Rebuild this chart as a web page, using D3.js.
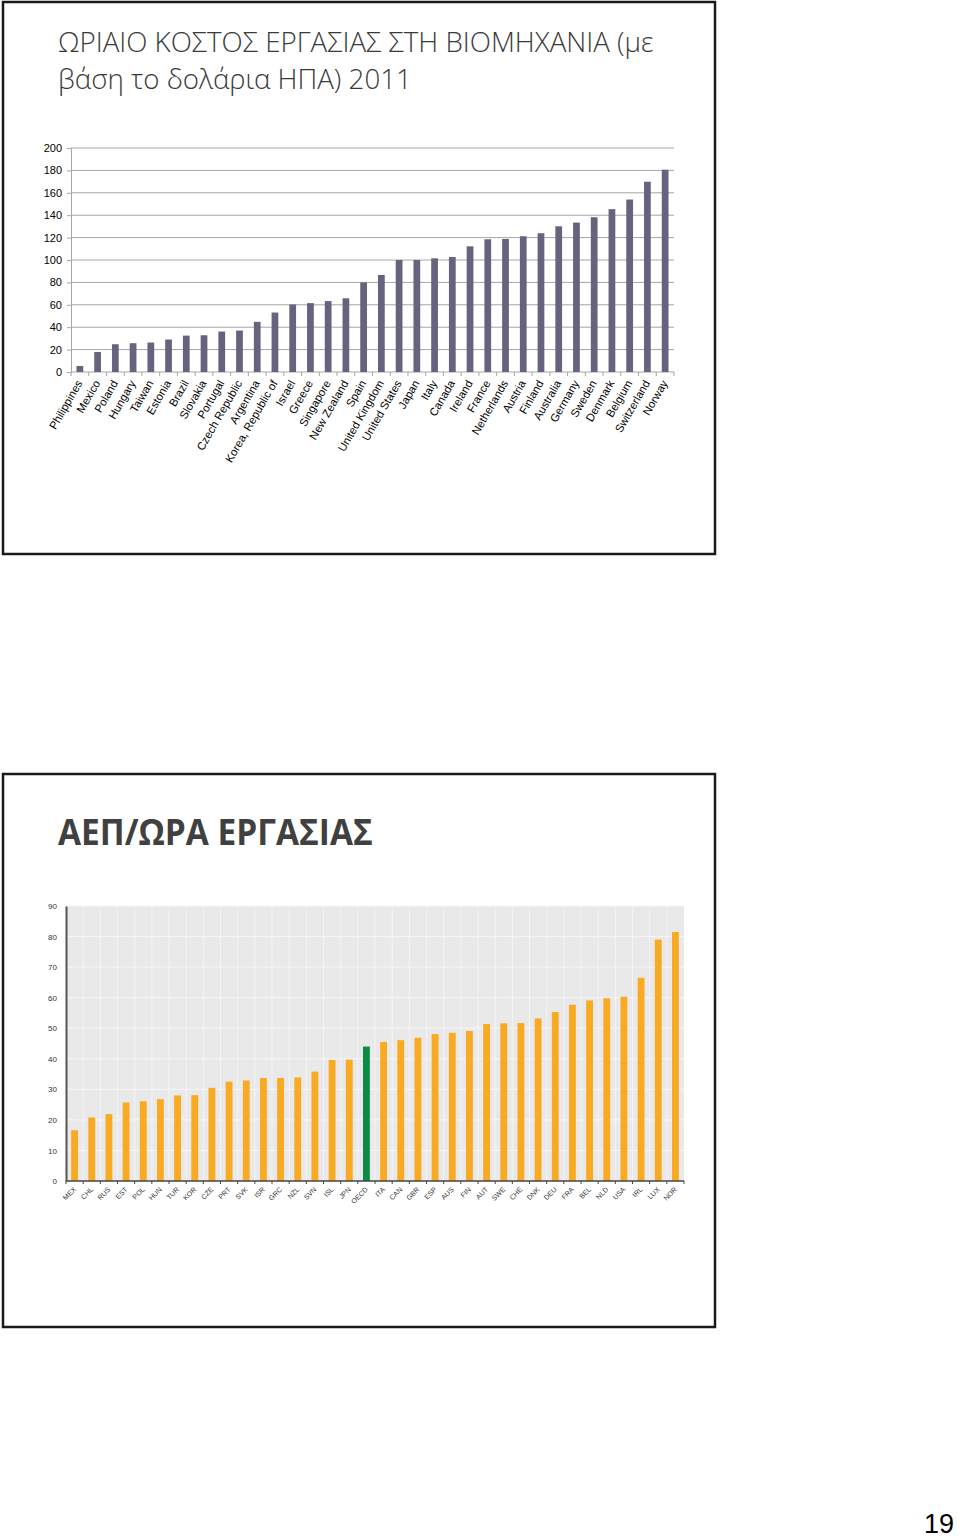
<!DOCTYPE html>
<html><head><meta charset="utf-8">
<script src="https://cdn.jsdelivr.net/npm/d3@7"></script>
<style>body{margin:0;background:#fff}svg{display:block}</style>
</head><body>
<script>
// ---- Top chart data ----
const costCountries = ["Philippines","Mexico","Poland","Hungary","Taiwan","Estonia","Brazil","Slovakia","Portugal","Czech Republic","Argentina","Korea, Republic of","Israel","Greece","Singapore","New Zealand","Spain","United Kingdom","United States","Japan","Italy","Canada","Ireland","France","Netherlands","Austria","Finland","Australia","Germany","Sweden","Denmark","Belgium","Switzerland","Norway"];
const costValues = [5.4,17.9,24.8,25.7,26.3,29,32.5,32.8,36.1,37,44.8,53.1,60.3,61.5,63.3,65.8,80,86.6,100,100,101.5,102.7,112.2,118.5,118.8,121.2,123.9,130.1,133.4,138.2,145.4,154,169.9,180.6];
const costTicks = [0,20,40,60,80,100,120,140,160,180,200];

// ---- Bottom chart data ----
const gdpCodes = ["MEX","CHL","RUS","EST","POL","HUN","TUR","KOR","CZE","PRT","SVK","ISR","GRC","NZL","SVN","ISL","JPN","OECD","ITA","CAN","GBR","ESP","AUS","FIN","AUT","SWE","CHE","DNK","DEU","FRA","BEL","NLD","USA","IRL","LUX","NOR"];
const gdpValues = [16.6,20.8,21.9,25.7,26.1,26.8,28.0,28.1,30.5,32.5,32.9,33.7,33.7,33.9,35.8,39.6,39.7,44.0,45.5,46.1,46.9,48.1,48.5,49.1,51.4,51.6,51.7,53.2,55.3,57.7,59.1,59.8,60.3,66.5,79.0,81.5];
const gdpTicks = [0,10,20,30,40,50,60,70,80,90];

const title1 = ["ΩΡΙΑΙΟ ΚΟΣΤΟΣ ΕΡΓΑΣΙΑΣ ΣΤΗ ΒΙΟΜΗΧΑΝΙΑ (με","βάση το δολάρια ΗΠΑ) 2011"];
const title2 = "ΑΕΠ/ΩΡΑ ΕΡΓΑΣΙΑΣ";
const pageNum = "19";

const svg = d3.select("body").append("svg").attr("width",960).attr("height",1539);

// slide frames
svg.append("rect").attr("x",3).attr("y",2).attr("width",712).attr("height",552)
  .attr("fill","none").attr("stroke","#1a1a1a").attr("stroke-width",2.5);
svg.append("rect").attr("x",3).attr("y",774).attr("width",712).attr("height",553)
  .attr("fill","none").attr("stroke","#1a1a1a").attr("stroke-width",2.5);

// titles
svg.selectAll("text.t1").data(title1).join("text").attr("class","t1")
  .attr("x",58).attr("y",(d,i)=>52+i*37)
  .attr("font-family","'Open Sans', 'Noto Sans', sans-serif").attr("font-weight",300)
  .attr("font-size",27.7).attr("fill","#3a3a3a").text(d=>d);
svg.append("text").attr("transform","translate(58,845) scale(0.955,1)")
  .attr("font-family","'Open Sans', sans-serif").attr("font-weight","bold")
  .attr("font-size",35).attr("fill","#404040").text(title2);

svg.append("text").attr("x",954).attr("y",1533).attr("text-anchor","end")
  .attr("font-family","'Liberation Sans', Arial, sans-serif").attr("font-size",27).attr("fill","#000").text(pageNum);

// ---- Top chart ----
{
  const x0=71, x1=674, yTop=148, yBot=372;
  const x = d3.scaleBand().domain(costCountries).range([x0,x1]).paddingInner(0.62).paddingOuter(0.31);
  const y = d3.scaleLinear().domain([0,200]).range([yBot,yTop]);
  const g = svg.append("g");
  g.selectAll("line.grid").data(costTicks).join("line")
    .attr("x1",x0).attr("x2",x1).attr("y1",d=>y(d)).attr("y2",d=>y(d))
    .attr("stroke","#a6a6a6").attr("stroke-width",1);
  const ya = g.append("g").attr("transform",`translate(${x0},0)`)
    .call(d3.axisLeft(y).tickValues(costTicks).tickSize(4).tickPadding(5));
  ya.select(".domain").attr("stroke","#a6a6a6");
  ya.selectAll(".tick line").attr("stroke","#a6a6a6");
  ya.selectAll("text").attr("font-family","'Liberation Sans', Arial, sans-serif").attr("font-size",11).attr("fill","#000");
  g.selectAll("rect.bar").data(costValues).join("rect")
    .attr("x",(d,i)=>x(costCountries[i])).attr("width",x.bandwidth())
    .attr("y",d=>y(d)).attr("height",d=>yBot-y(d)).attr("fill","#67627e");
  const bounds = d3.range(costCountries.length+1).map(i=>x0+i*(x1-x0)/costCountries.length);
  g.selectAll("line.xt").data(bounds).join("line")
    .attr("x1",d=>d).attr("x2",d=>d).attr("y1",yBot).attr("y2",yBot+4).attr("stroke","#a6a6a6");
  g.selectAll("text.xl").data(costCountries).join("text")
    .attr("transform",d=>`translate(${x(d)+x.bandwidth()/2+3},${yBot+11}) rotate(-60)`)
    .attr("text-anchor","end").attr("font-family","'Liberation Sans', Arial, sans-serif")
    .attr("font-size",11.3).attr("fill","#000").text(d=>d);
}

// ---- Bottom chart ----
{
  const x0=66, x1=684, yTop=906, yBot=1181;
  const x = d3.scaleBand().domain(gdpCodes).range([x0,x1]).paddingInner(0.6).paddingOuter(0.3);
  const y = d3.scaleLinear().domain([0,90]).range([yBot,yTop]);
  const g = svg.append("g");
  g.append("rect").attr("x",x0).attr("y",yTop).attr("width",x1-x0).attr("height",yBot-yTop).attr("fill","#e9e9e9");
  const bounds = d3.range(gdpCodes.length+1).map(i=>x0+i*(x1-x0)/gdpCodes.length);
  g.selectAll("line.vg").data(bounds.slice(1,-1)).join("line")
    .attr("x1",d=>d).attr("x2",d=>d).attr("y1",yTop).attr("y2",yBot).attr("stroke","#f4f4f4").attr("stroke-width",1);
  g.selectAll("line.hg").data(gdpTicks.slice(1)).join("line")
    .attr("x1",x0).attr("x2",x1).attr("y1",d=>y(d)).attr("y2",d=>y(d)).attr("stroke","#f6f6f6").attr("stroke-width",1);
  g.selectAll("rect.bar").data(gdpValues).join("rect")
    .attr("x",(d,i)=>x(gdpCodes[i])).attr("width",x.bandwidth())
    .attr("y",d=>y(d)).attr("height",d=>yBot-y(d))
    .attr("fill",(d,i)=>gdpCodes[i]==="OECD"?"#0e8a47":"#f8ab22");
  const ya = g.append("g").attr("transform",`translate(${x0},0)`)
    .call(d3.axisLeft(y).tickValues(gdpTicks).tickSize(0).tickPadding(9));
  ya.select(".domain").attr("stroke","#555").attr("stroke-width",2);
  ya.selectAll("text").attr("font-family","'Liberation Sans Narrow', Arial, sans-serif").attr("font-size",8).attr("fill","#333");
  g.append("line").attr("x1",x0).attr("x2",x1).attr("y1",yBot).attr("y2",yBot).attr("stroke","#444").attr("stroke-width",1.5);
  g.selectAll("line.xt").data(bounds).join("line")
    .attr("x1",d=>d).attr("x2",d=>d).attr("y1",yBot).attr("y2",yBot+3).attr("stroke","#444");
  g.selectAll("text.xl").data(gdpCodes).join("text")
    .attr("transform",d=>`translate(${x(d)+x.bandwidth()/2+2},${yBot+9}) rotate(-45)`)
    .attr("text-anchor","end").attr("font-family","'Liberation Sans', Arial, sans-serif")
    .attr("font-size",7).attr("fill","#333").text(d=>d);
}
</script>
</body></html>
